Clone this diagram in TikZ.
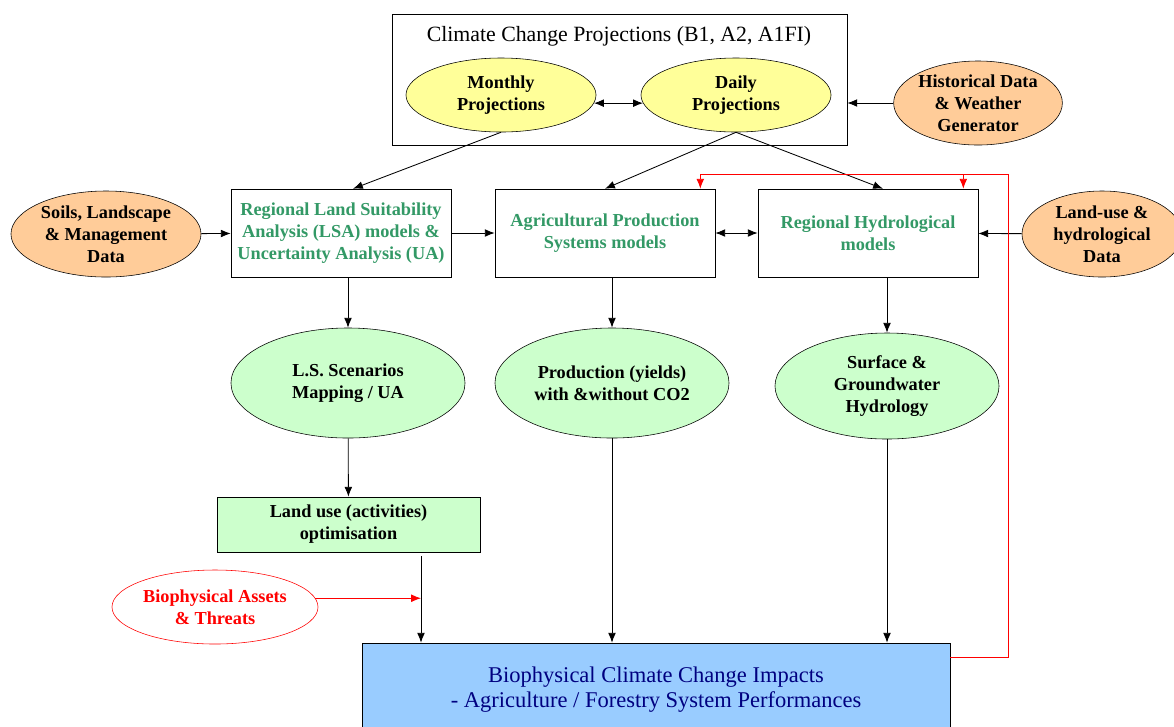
\documentclass[tikz,border=0pt]{standalone}
\usepackage{fontspec}
\setmainfont{Liberation Serif}[BoldFont={Liberation Serif Bold}, ItalicFont={Liberation Serif Italic}]
\usetikzlibrary{shapes.geometric, arrows.meta, calc}

\definecolor{projyellow}{RGB}{255,255,153}
\definecolor{dataorange}{RGB}{255,204,153}
\definecolor{resgreen}{RGB}{204,255,204}
\definecolor{modelgreen}{RGB}{51,153,102}
\definecolor{impactblue}{RGB}{153,204,255}
\definecolor{impacttext}{RGB}{0,0,128}

\begin{document}
\begin{tikzpicture}[x=0.025cm, y=-0.025cm, >={Latex[length=7pt, width=5.5pt]},
	every node/.style={font=\rmfamily\bfseries\fontsize{13}{15.6}\selectfont, align=center, inner sep=0pt},
	projell/.style={ellipse, draw, fill=projyellow, minimum width=4.75cm, minimum height=1.85cm},
	dataell/.style={ellipse, draw, fill=dataorange, minimum width=4.75cm, minimum height=2.15cm},
	modelbox/.style={rectangle, draw, fill=white, text=modelgreen, minimum width=5.5cm, minimum height=2.2cm},
	resell/.style={ellipse, draw, fill=resgreen, minimum width=5.85cm, minimum height=2.75cm},
	flow/.style={->, line width=0.6pt},
	feedback/.style={->, red, line width=0.6pt}]

	\clip (0, 0) rectangle (1174, 726);

	% projections
	\node[draw, minimum width=11.375cm, minimum height=3.275cm] (proj) at (619.5, 79.5) {};
	\node[font=\rmfamily\fontsize{15.5}{18}\selectfont] (projtitle) at (619, 36) {Climate Change Projections (B1, A2, A1FI)};
	\node[projell] (monthly) at (501, 95) {Monthly\\Projections};
	\node[projell] (daily) at (736, 95) {Daily\\Projections};
	\node[dataell, minimum width=3.75cm, minimum height=2.1cm] (hist) at (978, 103) {Historical Data\\\& Weather\\Generator};

	% models
	\node[dataell] (soils) at (106, 234) {Soils, Landscape\\\& Management\\Data};
	\node[modelbox] (lsa) at (341, 233) {Regional Land Suitability\\Analysis (LSA) models \&\\Uncertainty Analysis (UA)};
	\node[modelbox] (aps) at (605, 233) {Agricultural Production\\Systems models};
	\node[modelbox] (rh) at (868, 233) {Regional Hydrological\\models};
	\node[dataell, minimum width=4cm] (landuse) at (1102, 234) {Land-use \&\\hydrological\\Data};

	% results
	\node[resell] (lsmap) at (348, 383) {L.S. Scenarios\\Mapping / UA};
	\node[resell] (prod) at (612, 383) {Production (yields)\\with \&without CO2};
	\node[resell, minimum width=5.6cm, minimum height=2.65cm] (surface) at (887, 386) {Surface \&\\Groundwater\\Hydrology};

	\node[draw, fill=resgreen, minimum width=6.575cm, minimum height=1.375cm] (opt) at (348.5, 524.5) {Land use (activities)\\optimisation};
	\node[ellipse, draw=red, fill=white, text=red, minimum width=5.15cm, minimum height=1.85cm] (assets) at (215, 607) {Biophysical Assets\\\& Threats};

	\node[draw, fill=impactblue, text=impacttext, minimum width=14.7cm, minimum height=2.35cm,
		font=\rmfamily\fontsize{16}{17.8}\selectfont] (impact) at (656, 690) {Biophysical Climate Change Impacts\\- Agriculture / Forestry System Performances};

	% connectors
	\draw[<->, line width=0.6pt] (monthly.-5) -- (daily.185);
	\draw[flow] (hist.west) -- (hist.west -| proj.east);
	\draw[flow] (monthly.south) -- ($(lsa.north)+(12, 0)$);
	\draw[flow] (daily.south) -- (aps.north);
	\draw[flow] (daily.south) -- ($(rh.north)+(15, 0)$);

	\draw[flow] (soils) -- (lsa);
	\draw[flow] (lsa) -- (aps);
	\draw[<->, line width=0.6pt] (aps) -- (rh);
	\draw[flow] (landuse) -- (rh);

	\draw[flow] (lsmap.north |- lsa.south) -- (lsmap.north);
	\draw[flow] (prod.north |- aps.south) -- (prod.north);
	\draw[flow] (surface.north |- rh.south) -- (surface.north);
	\draw[flow] (lsmap) -- (opt);

	\coordinate (optout) at (421, 556);
	\coordinate (join) at (421, 600);
	\draw[flow] (optout) -- (optout |- impact.north);
	\draw[feedback] (assets.5) -- (assets.5 -| join);
	\draw[flow] (prod.south) -- (prod.south |- impact.north);
	\draw[flow] (surface.south) -- (surface.south |- impact.north);

	% feedback loop
	\coordinate (fbtop) at (1008, 174);
	\coordinate (rhin) at ($(rh.north east)+(-15, 0)$);
	\draw[feedback] ($(impact.north east)+(0, 15)$) -| (fbtop) -| ($(aps.north east)+(-15, 0)$);
	\draw[feedback] (fbtop -| rhin) -- (rhin);

\end{tikzpicture}
\end{document}
